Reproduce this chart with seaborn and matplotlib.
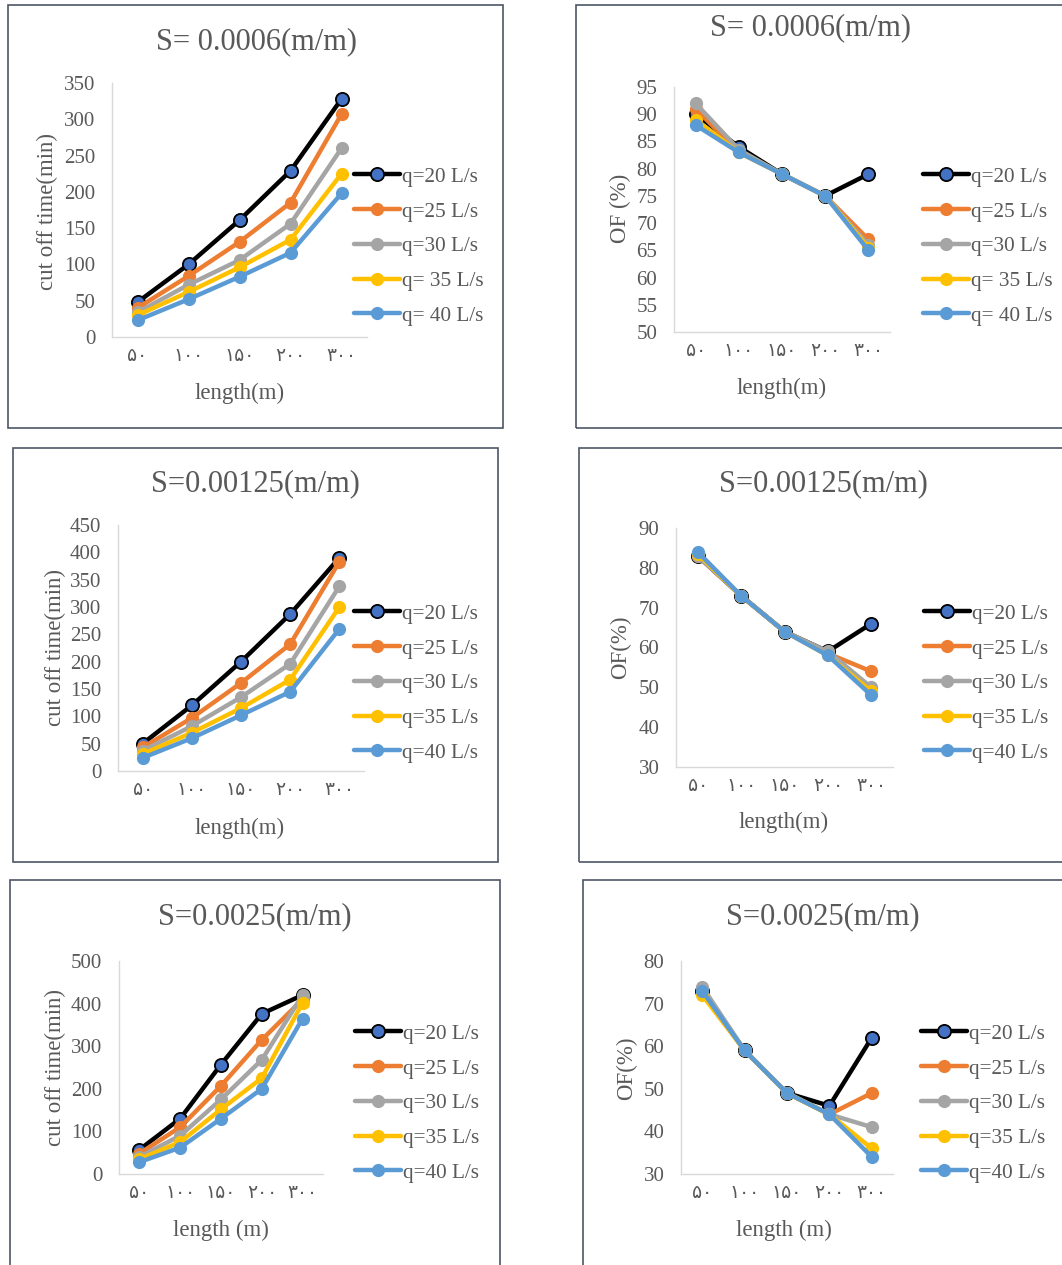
import numpy as np
import pandas as pd
import seaborn as sns
import matplotlib
matplotlib.use("Agg")
import matplotlib.pyplot as plt
from matplotlib.patches import Rectangle

sns.set_theme(style="white")
plt.rcParams['font.family'] = ['Liberation Serif', 'DejaVu Sans']

W, H = 1062, 1265

# categories (length, m) and Persian tick labels
lengths = [50, 100, 150, 200, 300]
tick_labels = ["۵۰", "۱۰۰", "۱۵۰", "۲۰۰", "۳۰۰"]

series_names_a = ["q=20 L/s", "q=25 L/s", "q=30 L/s", "q= 35 L/s", "q= 40 L/s"]
series_names_b = ["q=20 L/s", "q=25 L/s", "q=30 L/s", "q=35 L/s", "q=40 L/s"]
colors = ["#000000", "#ed7d31", "#a5a5a5", "#ffc000", "#5b9bd5"]

# S = 0.0006
cut_0006 = [
    [48, 100, 161, 229, 328],
    [40, 84, 131, 185, 307],
    [34, 72, 106, 156, 260],
    [30, 62, 96, 134, 225],
    [23, 52, 83, 116, 198],
]
of_0006 = [
    [90, 84, 79, 75, 79],
    [91, 83, 79, 75, 67],
    [92, 83.5, 79, 75, 66],
    [89, 83, 79, 75, 65.5],
    [88, 83, 79, 75, 65],
]
# S = 0.00125
cut_00125 = [
    [50, 120, 200, 287, 390],
    [43, 97, 161, 232, 383],
    [37, 82, 135, 196, 338],
    [31, 70, 115, 167, 300],
    [24, 60, 102, 145, 260],
]
of_00125 = [
    [83, 73, 64, 59, 66],
    [83, 73, 64, 58.5, 54],
    [83, 73, 64, 59, 50],
    [83.5, 73, 64, 58, 49],
    [84, 73, 64, 58, 48],
]
# S = 0.0025
cut_0025 = [
    [57, 130, 257, 376, 420],
    [48, 110, 207, 315, 410],
    [40, 90, 175, 268, 420],
    [35, 75, 152, 225, 402],
    [28, 62, 130, 200, 365],
]
of_0025 = [
    [73, 59, 49, 46, 62],
    [73, 59, 49, 44, 49],
    [74, 59, 49, 44, 41],
    [72, 59, 49, 44, 36],
    [73, 59, 49, 44, 34],
]

fig = plt.figure(figsize=(W / 100, H / 100), dpi=100)
fig.patch.set_facecolor("white")

def fx(x):
    return x / W

def fy(y):
    return 1 - y / H

panels = [
    dict(data=cut_0006, names=series_names_a, ylim=(0, 350), step=50, ax=(112, 83, 367, 337),
         box=(8, 5, 503, 428), title="S= 0.0006(m/m)", ylabel="cut off time(min)", xlabel="length(m)",
         t=(256, 42), yl=(47, 212), xl=(240, 393), leg=(354, 178)),
    dict(data=of_0006, names=series_names_a, ylim=(50, 95), step=5, ax=(674, 87, 890, 332),
         box=(576, 5, 1075, 428), title="S= 0.0006(m/m)", ylabel="OF (%)", xlabel="length(m)",
         t=(810, 28), yl=(620, 208), xl=(782, 388), leg=(923, 178)),
    dict(data=cut_00125, names=series_names_b, ylim=(0, 450), step=50, ax=(118, 525, 364, 771),
         box=(13, 448, 498, 862), title="S=0.00125(m/m)", ylabel="cut off time(min)", xlabel="length(m)",
         t=(255, 484), yl=(55, 648), xl=(240, 828), leg=(354, 615)),
    dict(data=of_00125, names=series_names_b, ylim=(30, 90), step=10, ax=(676, 528, 893, 767),
         box=(579, 448, 1075, 862), title="S=0.00125(m/m)", ylabel="OF(%)", xlabel="length(m)",
         t=(823, 484), yl=(621, 647), xl=(784, 822), leg=(924, 615)),
    dict(data=cut_0025, names=series_names_b, ylim=(0, 500), step=100, ax=(119, 961, 323, 1174),
         box=(10, 880, 500, 1275), title="S=0.0025(m/m)", ylabel="cut off time(min)", xlabel="length (m)",
         t=(255, 917), yl=(55, 1068), xl=(221, 1230), leg=(355, 1035)),
    dict(data=of_0025, names=series_names_b, ylim=(30, 80), step=10, ax=(681, 961, 893, 1174),
         box=(583, 880, 1075, 1275), title="S=0.0025(m/m)", ylabel="OF(%)", xlabel="length (m)",
         t=(823, 917), yl=(627, 1068), xl=(784, 1230), leg=(921, 1035)),
]

text_color = "#595959"
xpos = np.arange(len(lengths))

for p in panels:
    bx0, by0, bx1, by1 = p["box"]
    fig.patches.append(Rectangle((fx(bx0), fy(by1)), fx(bx1 - bx0), (by1 - by0) / H,
                                 transform=fig.transFigure, fill=False,
                                 edgecolor="#4d5566", linewidth=1.2, zorder=0))
    l, t, r, b = p["ax"]
    ax = fig.add_axes([fx(l), fy(b), fx(r - l), (b - t) / H])
    ax.set_facecolor("none")
    for i, vals in enumerate(p["data"]):
        df = pd.DataFrame({"x": xpos, "y": vals})
        if i == 0:
            kw = dict(markerfacecolor="#4472c4", markeredgecolor="#000000", markeredgewidth=1.3)
        else:
            kw = dict(markerfacecolor=colors[i], markeredgecolor=colors[i], markeredgewidth=0)
        sns.lineplot(data=df, x="x", y="y", ax=ax, color=colors[i], linewidth=3.2,
                     marker="o", markersize=9.5, legend=False, label=p["names"][i],
                     zorder=3 + i * 0.1, **kw)
    ax.set_xlim(-0.5, len(lengths) - 0.5)
    ax.set_ylim(*p["ylim"])
    ax.set_yticks(np.arange(p["ylim"][0], p["ylim"][1] + 0.1, p["step"]))
    ax.set_xticks(xpos)
    ax.set_xticklabels(tick_labels)
    ax.set_xlabel("")
    ax.set_ylabel("")
    ax.tick_params(axis="y", length=0, pad=12, labelsize=15, labelcolor=text_color)
    ax.tick_params(axis="x", length=0, pad=8, labelsize=13.5, labelcolor=text_color)
    for s in ["top", "right"]:
        ax.spines[s].set_visible(False)
    for s in ["left", "bottom"]:
        ax.spines[s].set_color("#d9d9d9")
        ax.spines[s].set_linewidth(1.0)
    ax.grid(False)

    handles = ax.get_lines()[:5]
    lx, ly = p["leg"]
    ax.legend(handles, p["names"], loc="upper left",
              bbox_to_anchor=(fx(lx), fy(ly - 11)), bbox_transform=fig.transFigure,
              frameon=False, fontsize=15.3, labelcolor=text_color, handlelength=2.15,
              handletextpad=0.1, labelspacing=0.7, borderpad=0, borderaxespad=0)

    fig.text(fx(p["t"][0]), fy(p["t"][1]), p["title"], ha="center", va="center",
             fontsize=22, color=text_color)
    fig.text(fx(p["yl"][0]), fy(p["yl"][1]), p["ylabel"], ha="center", va="center",
             rotation=90, fontsize=16.5, color=text_color)
    fig.text(fx(p["xl"][0]), fy(p["xl"][1]), p["xlabel"], ha="center", va="center",
             fontsize=16.5, color=text_color)

fig.savefig("out.png", dpi=100, facecolor="white")
